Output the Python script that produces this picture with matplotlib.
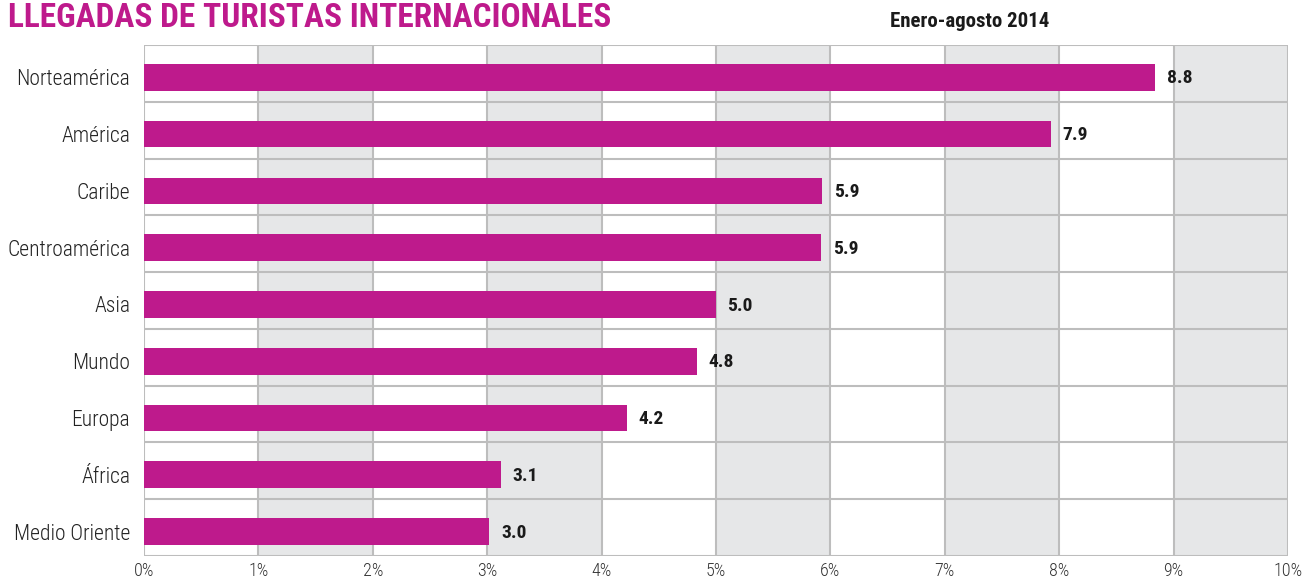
import matplotlib
matplotlib.use("Agg")
import matplotlib.pyplot as plt
from matplotlib import font_manager

# data
regiones = ["Norteamérica", "América", "Caribe", "Centroamérica", "Asia",
            "Mundo", "Europa", "África", "Medio Oriente"]
crecimiento = [8.84, 7.93, 5.93, 5.92, 5.00, 4.83, 4.22, 3.12, 3.02]
etiquetas = ["8.8", "7.9", "5.9", "5.9", "5.0", "4.8", "4.2", "3.1", "3.0"]
ticks_x = [0, 1, 2, 3, 4, 5, 6, 7, 8, 9, 10]

names = {f.name for f in font_manager.fontManager.ttflist}
fam = "DejaVu Sans"
for cand in ["Roboto Condensed", "Barlow Semi Condensed", "Liberation Sans Narrow", "Roboto"]:
    if cand in names:
        fam = cand
        break
plt.rcParams["font.family"] = [fam, "DejaVu Sans"]

magenta = "#BE1A8C"
gris = "#E6E7E8"
linea = "#BDBDBD"

fig = plt.figure(figsize=(13.08, 5.79), dpi=100)
ax = fig.add_axes([144/1308, 1-556/579, (1288-144)/1308, (556-45)/579])

n = len(regiones)
filas = list(range(n))[::-1]
# bars sit a little below the middle of each row
y = [f - 0.07 for f in filas]

# alternating gray columns
for i in range(1, 10, 2):
    ax.axvspan(i, i+1, color=gris, zorder=0, lw=0)
for xv in ticks_x:
    ax.axvline(xv, color=linea, lw=1.5, zorder=1)
for k in range(n+1):
    ax.axhline(k-0.5, color=linea, lw=1.5, zorder=1)

ax.barh(y, crecimiento, height=0.47, color=magenta, zorder=2)
for yi, v, t in zip(y, crecimiento, etiquetas):
    ax.text(v+0.1, yi-0.02, t, va="center", ha="left", fontsize=14,
            fontweight="bold", color="#1a1a1a", zorder=3)

ax.set_xlim(0, 10)
ax.set_ylim(-0.5, n-0.5)
ax.set_xticks(ticks_x)
ax.set_xticklabels([f"{t}%" for t in ticks_x], fontsize=13, color="#333333",
                   fontweight="light")
ax.set_yticks(y)
ax.set_yticklabels(regiones, fontsize=15.5, color="#222222", fontweight="light")
ax.tick_params(length=0)
ax.tick_params(axis="y", pad=10)
ax.tick_params(axis="x", pad=4)
for s in ax.spines.values():
    s.set_visible(False)

fig.text(8/1308, 1-27/579, "LLEGADAS DE TURISTAS INTERNACIONALES", fontsize=24,
         fontweight="heavy", color=magenta, ha="left", va="baseline")
fig.text(970/1308, 1-27/579, "Enero-agosto 2014", fontsize=15, fontweight="bold",
         color="#1a1a1a", ha="center", va="baseline")

fig.savefig("out.png", dpi=100)
